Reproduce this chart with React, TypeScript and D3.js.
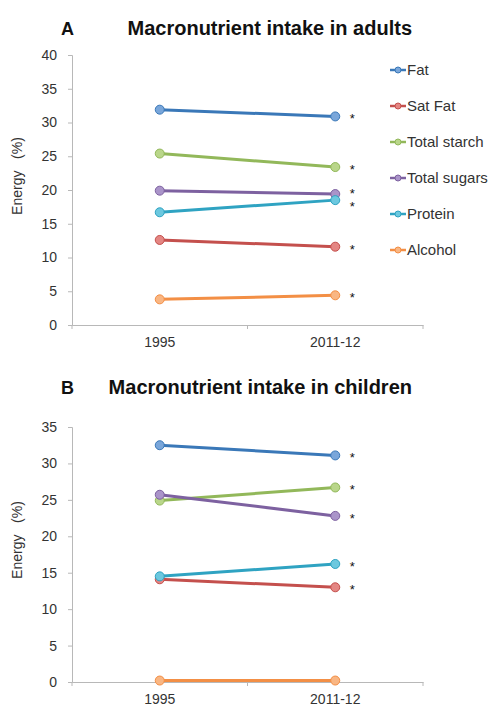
import React, { useEffect, useRef } from "react";
import * as d3 from "d3";

const years = ["1995", "2011-12"];
const seriesNames = ["Fat", "Sat Fat", "Total starch", "Total sugars", "Protein", "Alcohol"];
const lineColors = ["#3a78b8", "#c4504d", "#92b85a", "#7d61a0", "#2fa3c2", "#f38f45"];
const markerColors = ["#79a6da", "#e48683", "#b9d68a", "#aa94c9", "#6cc8df", "#f9b683"];

// panel A: adults
const adultFat = [31.9, 30.9];
const adultSatFat = [12.6, 11.6];
const adultStarch = [25.4, 23.4];
const adultSugars = [19.9, 19.4];
const adultProtein = [16.7, 18.5];
const adultAlcohol = [3.8, 4.4];
const adultSignificant = [true, true, true, true, true, true];
const adultTicks = [0, 5, 10, 15, 20, 25, 30, 35, 40];

// panel B: children
const childFat = [32.5, 31.1];
const childSatFat = [14.1, 13.0];
const childStarch = [24.9, 26.7];
const childSugars = [25.7, 22.8];
const childProtein = [14.5, 16.2];
const childAlcohol = [0.2, 0.2];
const childSignificant = [true, true, true, true, true, false];
const childTicks = [0, 5, 10, 15, 20, 25, 30, 35];

const font = "'Liberation Sans', Arial, sans-serif";

type PanelProps = {
  letter: string;
  title: string;
  series: number[][];
  significant: boolean[];
  ticks: number[];
  top: number;
  bottom: number;
  titleY: number;
  labelY: number;
  legend: boolean;
};

function drawPanel(g: d3.Selection<SVGGElement, unknown, null, undefined>, p: PanelProps) {
  const left = 72;
  const right = 423;

  const x = d3.scaleBand().domain(years).range([left, right]);
  const y = d3.scaleLinear()
    .domain([0, d3.max(p.ticks) as number])
    .range([p.bottom, p.top]);
  const cx = (d: string) => (x(d) as number) + x.bandwidth() / 2;

  // titles
  g.append("text")
    .attr("x", 61)
    .attr("y", p.titleY)
    .attr("font-family", font)
    .attr("font-weight", "bold")
    .attr("font-size", 18)
    .attr("fill", "#111")
    .text(p.letter);

  g.append("text")
    .attr("x", 412)
    .attr("y", p.titleY)
    .attr("text-anchor", "end")
    .attr("font-family", font)
    .attr("font-weight", "bold")
    .attr("font-size", 20)
    .attr("fill", "#111")
    .text(p.title);

  // axes
  const yAxis = d3.axisLeft(y).tickValues(p.ticks).tickSize(4).tickPadding(11);
  const ya = g.append("g").attr("transform", `translate(${left},0)`).call(yAxis);
  const xAxis = d3.axisBottom(x).tickValues([]).tickSizeOuter(0);
  const xa = g.append("g").attr("transform", `translate(0,${p.bottom})`).call(xAxis);

  // band edge ticks
  xa.selectAll(".edge")
    .data([left, left + x.bandwidth(), right])
    .enter()
    .append("line")
    .attr("x1", d => d)
    .attr("x2", d => d)
    .attr("y1", 0)
    .attr("y2", 4)
    .attr("stroke", "#b8b8b8");

  xa.selectAll(".lbl")
    .data(years)
    .enter()
    .append("text")
    .attr("x", d => cx(d))
    .attr("y", 22)
    .attr("text-anchor", "middle")
    .attr("font-family", font)
    .attr("font-size", 14)
    .attr("fill", "#333")
    .text(d => d);

  [ya, xa].forEach(a => {
    a.select(".domain").attr("stroke", "#b8b8b8");
    a.selectAll(".tick line").attr("stroke", "#b8b8b8");
    a.selectAll(".tick text")
      .attr("font-family", font)
      .attr("font-size", 14)
      .attr("fill", "#333");
  });

  g.append("text")
    .attr("transform", `translate(22,${p.labelY}) rotate(-90)`)
    .attr("text-anchor", "middle")
    .attr("font-family", font)
    .attr("font-size", 14)
    .attr("fill", "#333")
    .attr("xml:space", "preserve")
    .text("Energy   (%)");

  // lines
  const line = d3.line<number>()
    .x((_, i) => cx(years[i]))
    .y(d => y(d));

  p.series.forEach((vals, i) => {
    g.append("path")
      .attr("d", line(vals))
      .attr("fill", "none")
      .attr("stroke", lineColors[i])
      .attr("stroke-width", 3);
    g.selectAll(null)
      .data(vals)
      .enter()
      .append("circle")
      .attr("cx", (_, j) => cx(years[j]))
      .attr("cy", d => y(d))
      .attr("r", 4.5)
      .attr("fill", markerColors[i])
      .attr("stroke", lineColors[i])
      .attr("stroke-width", 1);
  });

  // significance asterisks, nudged apart when they crowd
  const minGap = 13;
  const stars = p.series
    .map((vals, i) => ({ i, y: y(vals[1]) }))
    .filter(s => p.significant[s.i])
    .sort((a, b) => a.y - b.y);
  for (let k = 1; k < stars.length; k++) {
    const gap = stars[k].y - stars[k - 1].y;
    if (gap < minGap) {
      const push = (minGap - gap) / 2;
      stars[k - 1].y -= push;
      stars[k].y += push;
    }
  }
  g.selectAll(null)
    .data(stars)
    .enter()
    .append("text")
    .attr("x", cx(years[1]) + 17)
    .attr("y", d => d.y + 7)
    .attr("text-anchor", "middle")
    .attr("font-family", font)
    .attr("font-size", 13)
    .attr("fill", "#111")
    .text("*");

  if (p.legend) {
    const lg = g.append("g");
    seriesNames.forEach((name, i) => {
      const ly = 70 + i * 36;
      lg.append("line")
        .attr("x1", 390)
        .attr("x2", 406)
        .attr("y1", ly)
        .attr("y2", ly)
        .attr("stroke", lineColors[i])
        .attr("stroke-width", 2.5);
      lg.append("circle")
        .attr("cx", 398)
        .attr("cy", ly)
        .attr("r", 3)
        .attr("fill", markerColors[i])
        .attr("stroke", lineColors[i])
        .attr("stroke-width", 1);
      lg.append("text")
        .attr("x", 407)
        .attr("y", ly)
        .attr("dy", "0.35em")
        .attr("font-family", font)
        .attr("font-size", 15)
        .attr("fill", "#333")
        .text(name);
    });
  }
}

const App = () => {
  const svgRef = useRef<SVGSVGElement>(null);

  useEffect(() => {
    const svg = d3.select(svgRef.current);
    svg.selectAll("*").remove();

    drawPanel(svg.append("g"), {
      letter: "A",
      title: "Macronutrient intake in adults",
      series: [adultFat, adultSatFat, adultStarch, adultSugars, adultProtein, adultAlcohol],
      significant: adultSignificant,
      ticks: adultTicks,
      top: 55,
      bottom: 325,
      titleY: 35,
      labelY: 176,
      legend: true,
    });

    drawPanel(svg.append("g"), {
      letter: "B",
      title: "Macronutrient intake in children",
      series: [childFat, childSatFat, childStarch, childSugars, childProtein, childAlcohol],
      significant: childSignificant,
      ticks: childTicks,
      top: 427,
      bottom: 682,
      titleY: 394,
      labelY: 540,
      legend: false,
    });
  }, []);

  return (
    <svg
      ref={svgRef}
      width={494}
      height={707}
      style={{ position: "absolute", left: 0, top: 0, background: "#fff" }}
    />
  );
};

export default App;
